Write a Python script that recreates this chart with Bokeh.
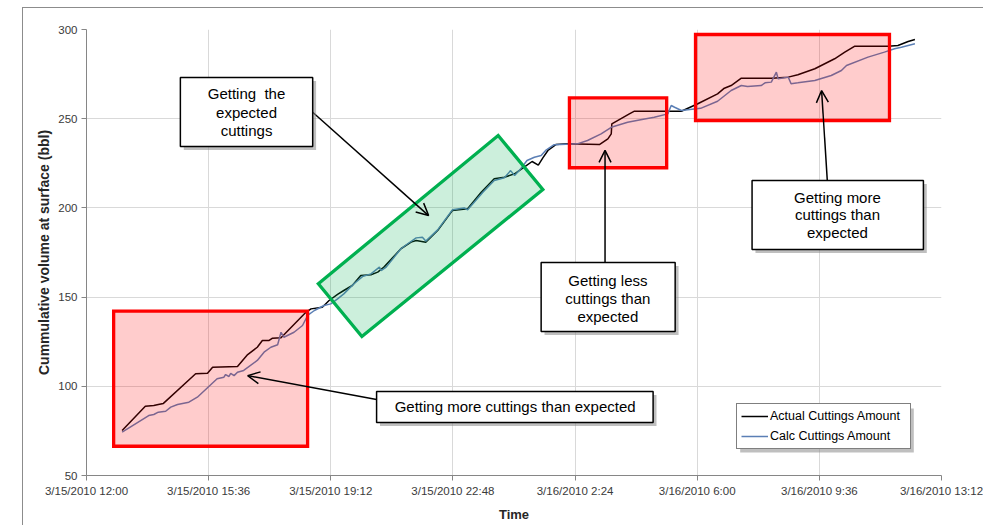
import pandas as pd
from bokeh.plotting import figure
from bokeh.models import (Range1d, FixedTicker, BoxAnnotation, Label, Arrow, OpenHead,
                          Legend, LegendItem, ColumnDataSource, PolyAnnotation)
from bokeh.embed import file_html
from bokeh.resources import INLINE

# ---------------- data ----------------
actual_time = ["3/15 13:03", "3/15 13:44", "3/15 13:59", "3/15 14:07", "3/15 14:16", "3/15 15:13",
               "3/15 15:34", "3/15 15:43", "3/15 16:27", "3/15 16:45", "3/15 17:02", "3/15 17:11",
               "3/15 17:23", "3/15 17:29", "3/15 17:44", "3/15 18:28", "3/15 18:37", "3/15 18:57",
               "3/15 19:09", "3/15 19:24", "3/15 19:35", "3/15 19:50", "3/15 20:05", "3/15 20:23",
               "3/15 20:35", "3/15 20:46", "3/15 21:16", "3/15 21:34", "3/15 21:43", "3/15 22:00",
               "3/15 22:21", "3/15 22:47", "3/15 23:14", "3/15 23:38", "3/16 00:01", "3/16 00:19",
               "3/16 00:37", "3/16 00:54", "3/16 01:08", "3/16 01:19", "3/16 01:27", "3/16 01:36",
               "3/16 01:50", "3/16 02:11", "3/16 03:07", "3/16 03:22", "3/16 03:28", "3/16 03:29",
               "3/16 04:00", "3/16 04:09", "3/16 05:32", "3/16 06:01", "3/16 06:36", "3/16 06:48",
               "3/16 07:00", "3/16 07:18", "3/16 08:11", "3/16 08:41", "3/16 08:58", "3/16 09:28",
               "3/16 10:03", "3/16 10:21", "3/16 10:38", "3/16 11:38", "3/16 11:55", "3/16 12:13",
               "3/16 12:25"]
actual_bbl = [75.2, 88.8, 89.2, 89.8, 90.4, 107.0,
              107.3, 110.7, 111.1, 117.8, 121.9, 125.7,
              125.7, 127.0, 127.2, 141.5, 143.4, 144.3,
              148.1, 151.5, 153.7, 156.5, 162.1, 162.5,
              164.0, 166.8, 177.1, 180.8, 181.7, 180.8,
              187.3, 198.5, 199.5, 208.8, 216.3, 217.2,
              219.1, 222.8, 226.0, 224.0, 228.0, 232.2,
              235.5, 235.9, 235.5, 238.7, 241.5, 247.1,
              252.7, 254.2, 254.2, 258.4, 263.9, 267.1,
              268.6, 272.7, 272.7, 273.3, 274.6, 278.0,
              283.6, 287.3, 290.6, 290.6, 291.0, 293.3,
              294.4]

calc_time = ["3/15 13:03", "3/15 13:50", "3/15 13:59", "3/15 14:07", "3/15 14:20", "3/15 14:29",
             "3/15 14:41", "3/15 15:01", "3/15 15:16", "3/15 15:51", "3/15 16:03", "3/15 16:06",
             "3/15 16:12", "3/15 16:15", "3/15 16:21", "3/15 16:27", "3/15 16:38", "3/15 17:02",
             "3/15 17:14", "3/15 17:26", "3/15 17:38", "3/15 17:44", "3/15 17:49", "3/15 18:07",
             "3/15 18:22", "3/15 18:31", "3/15 18:43", "3/15 19:00", "3/15 19:12", "3/15 19:24",
             "3/15 19:35", "3/15 19:53", "3/15 20:08", "3/15 20:23", "3/15 20:38", "3/15 20:41",
             "3/15 20:50", "3/15 21:16", "3/15 21:28", "3/15 21:43", "3/15 21:54", "3/15 22:00",
             "3/15 22:21", "3/15 22:47", "3/15 23:08", "3/15 23:14", "3/15 23:41", "3/16 00:01",
             "3/16 00:19", "3/16 00:30", "3/16 00:37", "3/16 00:48", "3/16 00:59", "3/16 01:12",
             "3/16 01:24", "3/16 01:32", "3/16 01:47", "3/16 02:28", "3/16 02:46", "3/16 03:10",
             "3/16 03:28", "3/16 03:57", "3/16 04:20", "3/16 04:44", "3/16 05:08", "3/16 05:14",
             "3/16 05:20", "3/16 05:32", "3/16 06:06", "3/16 06:36", "3/16 07:00", "3/16 07:18",
             "3/16 07:29", "3/16 07:53", "3/16 08:00", "3/16 08:11", "3/16 08:20", "3/16 08:23",
             "3/16 08:41", "3/16 08:46", "3/16 08:58", "3/16 09:28", "3/16 09:57", "3/16 10:15",
             "3/16 10:24", "3/16 11:02", "3/16 11:31", "3/16 11:49", "3/16 12:01", "3/16 12:25"]
calc_bbl = [74.3, 83.6, 84.2, 85.5, 86.0, 88.3,
            89.8, 91.1, 93.9, 104.2, 105.1, 106.6,
            105.5, 107.3, 106.0, 107.9, 108.9, 114.5,
            119.1, 121.9, 123.3, 130.3, 127.5, 130.3,
            134.1, 139.7, 142.5, 145.3, 146.2, 149.0,
            151.8, 157.5, 161.5, 163.0, 166.8, 164.9,
            166.8, 177.1, 179.9, 183.2, 183.6, 181.4,
            187.7, 198.9, 200.0, 198.9, 208.8, 215.4,
            216.9, 220.9, 218.2, 222.0, 226.6, 228.4,
            229.4, 232.2, 235.4, 235.9, 237.8, 241.5,
            245.2, 248.0, 249.4, 250.8, 252.7, 257.4,
            256.4, 254.6, 255.8, 259.8, 265.8, 268.6,
            268.0, 268.6, 270.1, 270.5, 276.1, 272.4,
            273.3, 269.6, 270.1, 271.4, 274.2, 277.0,
            279.8, 284.5, 287.3, 289.2, 290.1, 292.0]

x_tick_times = ["3/15 12:00", "3/15 15:36", "3/15 19:12", "3/15 22:48",
                "3/16 02:24", "3/16 06:00", "3/16 09:36", "3/16 13:12"]
x_tick_labels = ["3/15/2010 12:00", "3/15/2010 15:36", "3/15/2010 19:12", "3/15/2010 22:48",
                 "3/16/2010 2:24", "3/16/2010 6:00", "3/16/2010 9:36", "3/16/2010 13:12"]
y_ticks = [50, 100, 150, 200, 250, 300]

series_names = ["Actual Cuttings Amount", "Calc Cuttings Amount"]


# ---------------- helpers ----------------
def to_dt(strings):
    return pd.to_datetime([s.replace(" ", "/2010 ", 1) for s in strings], format="%m/%d/%Y %H:%M")


EPOCH = pd.Timestamp("1970-01-01")


def ms(s):
    return (to_dt([s])[0] - EPOCH) / pd.Timedelta(milliseconds=1)


FONT = "Liberation Sans"
FRAME_GRAY = "#8c8c8c"

tick_ms = [ms(s) for s in x_tick_times]

p = figure(width=983, height=525, x_axis_type="datetime",
           x_range=Range1d(tick_ms[0], tick_ms[-1]), y_range=Range1d(50, 300),
           output_backend="svg", toolbar_location=None,
           min_border_left=86, min_border_right=42, min_border_top=29, min_border_bottom=50)
p.outline_line_color = None
p.background_fill_color = "white"
p.border_fill_alpha = 0
# outer chart-area frame: only its top and left edges are visible in the crop
p.styles = {
    "background-color": "white",
    "background-image": f"linear-gradient({FRAME_GRAY}, {FRAME_GRAY}), linear-gradient({FRAME_GRAY}, {FRAME_GRAY})",
    "background-size": "100% 1px, 1px 100%",
    "background-position": "22px 7px, 22px 7px",
    "background-repeat": "no-repeat",
}

ticker = FixedTicker(ticks=tick_ms)
p.xaxis.ticker = ticker
p.xgrid.ticker = ticker
p.xaxis.major_label_overrides = {t: lab for t, lab in zip(tick_ms, x_tick_labels)}
p.yaxis.ticker = FixedTicker(ticks=y_ticks)
p.ygrid.ticker = FixedTicker(ticks=y_ticks)

for ax in (p.xaxis[0], p.yaxis[0]):
    ax.axis_line_color = "#868686"
    ax.major_tick_line_color = "#868686"
    ax.major_tick_out = 5
    ax.major_tick_in = 0
    ax.minor_tick_line_color = None
    ax.major_label_standoff = 4
    ax.major_label_text_font = FONT
    ax.major_label_text_font_size = "11.5px"
    ax.major_label_text_color = "#3a3a3a"
    ax.axis_label_text_font = FONT
    ax.axis_label_text_font_style = "bold"
    ax.axis_label_text_color = "#262626"

p.xaxis.axis_label = "Time"
p.xaxis.axis_label_text_font_size = "13px"
p.xaxis.axis_label_standoff = 7
p.yaxis.axis_label = "Cummulative volume at surface (bbl)"
p.yaxis.axis_label_text_font_size = "14px"
p.yaxis.axis_label_standoff = 3

p.xgrid.grid_line_color = "#d9d9d9"
p.ygrid.grid_line_color = "#d9d9d9"

src_a = ColumnDataSource(dict(t=to_dt(actual_time), v=actual_bbl))
src_c = ColumnDataSource(dict(t=to_dt(calc_time), v=calc_bbl))
r_act = p.line("t", "v", source=src_a, line_color="black", line_width=1.5)
r_calc = p.line("t", "v", source=src_c, line_color="#5b7fb5", line_width=1.5)

# ---------------- highlighted regions ----------------
red_boxes = [("3/15 12:48", "3/15 18:31", 142.1, 66.4),
             ("3/16 02:14", "3/16 05:06", 261.7, 222.5),
             ("3/16 05:57", "3/16 11:40", 297.2, 249.0)]
for l, r, t, b in red_boxes:
    p.add_layout(BoxAnnotation(left=ms(l), right=ms(r), top=t, bottom=b,
                               fill_color="red", fill_alpha=0.2,
                               line_color="#ff0000", line_width=3.3, line_alpha=1,
                               line_join="miter"))

green_corners = [("3/15 18:50", 157.5), ("3/16 00:08", 240.6),
                 ("3/16 01:27", 210.3), ("3/15 20:07", 127.9)]
p.add_layout(PolyAnnotation(xs=[ms(c[0]) for c in green_corners], ys=[c[1] for c in green_corners],
                            fill_color="#00b050", fill_alpha=0.2,
                            line_color="#00b050", line_width=3.3, line_alpha=1,
                            line_join="miter"))

# ---------------- arrows (start at a callout, point at the data) ----------------
arrows = [("3/15 18:40", 253.6, "3/15 22:05", 195.7),
          ("3/15 20:33", 92.6, "3/15 16:45", 106.0),
          ("3/16 03:17", 169.4, "3/16 03:17", 232.2),
          ("3/16 09:50", 215.4, "3/16 09:40", 265.8)]
for xs, ys, xe, ye in arrows:
    p.add_layout(Arrow(end=OpenHead(size=12, line_width=1.5, line_color="black"),
                       x_start=ms(xs), y_start=ys, x_end=ms(xe), y_end=ye,
                       line_width=1.5, line_color="black"))

# ---------------- callouts ----------------
SHADOW_MIN = pd.Timedelta(minutes=6) / pd.Timedelta(milliseconds=1)
SHADOW_V = 2.0

callouts = [
    ("3/15 14:46", "3/15 18:40", 273.1, 234.4, "3/15 16:43",
     ["Getting\u00a0\u00a0the", "expected", "cuttings"], [264.1, 253.5, 243.4]),
    ("3/15 20:33", "3/16 04:42", 97.1, 79.7, "3/16 00:38",
     ["Getting more cuttings than expected"], [88.6]),
    ("3/16 01:24", "3/16 05:21", 169.4, 130.7, "3/16 03:22",
     ["Getting less", "cuttings than", "expected"], [159.3, 149.2, 139.1]),
    ("3/16 07:37", "3/16 12:40", 215.4, 176.7, "3/16 10:08",
     ["Getting more", "cuttings than", "expected"], [205.8, 196.3, 186.2]),
]
for l, r, t, b, cx, lines, ly in callouts:
    p.add_layout(BoxAnnotation(left=ms(l) + SHADOW_MIN, right=ms(r) + SHADOW_MIN,
                               top=t - SHADOW_V, bottom=b - SHADOW_V,
                               fill_color="#8a8a8a", fill_alpha=0.55, line_alpha=0))
    p.add_layout(BoxAnnotation(left=ms(l), right=ms(r), top=t, bottom=b,
                               fill_color="white", fill_alpha=1,
                               line_color="black", line_width=1.5, line_alpha=1))
    for txt, yy in zip(lines, ly):
        p.add_layout(Label(x=ms(cx), y=yy, text=txt, text_align="center",
                           text_baseline="middle", text_font=FONT,
                           text_font_size="15px", text_color="black"))

# ---------------- legend ----------------
p.add_layout(BoxAnnotation(left=ms("3/16 07:16"), right=ms("3/16 12:23"), top=87.6, bottom=62.9,
                           fill_color="#8a8a8a", fill_alpha=0.55, line_alpha=0))
legend = Legend(items=[LegendItem(label=series_names[0], renderers=[r_act]),
                       LegendItem(label=series_names[1], renderers=[r_calc])],
                location=(650, 26), margin=0, padding=4, spacing=4,
                glyph_width=27, glyph_height=16, label_height=16, label_width=136,
                label_standoff=2, label_text_font=FONT, label_text_font_size="12.5px",
                label_text_color="black", border_line_color="black", border_line_width=1,
                background_fill_color="white", background_fill_alpha=1)
p.add_layout(legend)

open("out.html", "w").write(file_html(p, INLINE))
